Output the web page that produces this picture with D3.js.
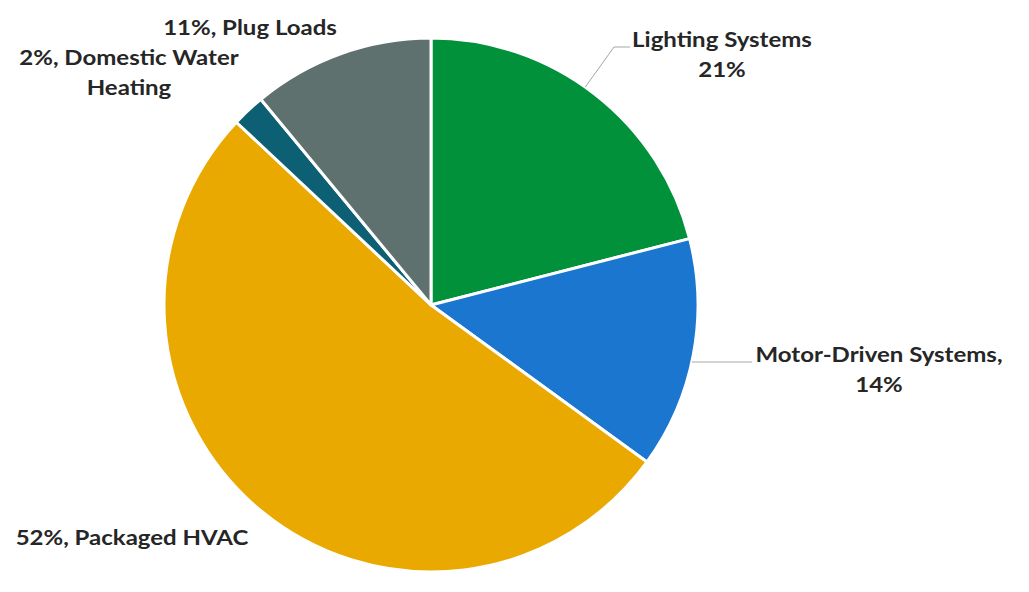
<!DOCTYPE html>
<html>
<head>
<meta charset="utf-8">
<script src="https://cdn.jsdelivr.net/npm/d3@7"></script>
<style>
  html, body { margin: 0; padding: 0; background: #fff; }
  svg { display: block; }
  .lbl { font-family: Lato, "Open Sans", sans-serif; font-weight: 700; font-size: 20px; fill: #262626; }
</style>
</head>
<body>
<svg id="chart" width="1029" height="592"></svg>
<script>
// Energy end-use shares, clockwise from 12 o'clock
const categories = ["Lighting Systems", "Motor-Driven Systems", "Packaged HVAC", "Domestic Water Heating", "Plug Loads"];
const shares = [21, 14, 52, 2, 11];
const sliceColors = ["#00913a", "#1a76cf", "#e9a900", "#0d5f74", "#5f716e"];

// Label text lines for each slice
const labelLines = [
  ["Lighting Systems", "21%"],
  ["Motor-Driven Systems,", "14%"],
  ["52%, Packaged HVAC"],
  ["2%, Domestic Water", "Heating"],
  ["11%, Plug Loads"]
];

// Label placement (center x, first baseline y)
const labelAnchor = [
  [722, 47], [879, 362], [132, 545], [129, 65], [250, 35]
];
// Leader polylines: rim start is found on the slice's edge
const leaderDefs = [
  { mode: "nearest", via: [[614, 47]], to: [630, 47] },
  { mode: "level", via: [], to: [752, 362] },
  null, null, null
];

const cx = 431, cy = 305, R = 267;
const lineGap = 30;
const stretchX = 1.2;

const svg = d3.select("#chart");
const g = svg.append("g").attr("transform", `translate(${cx},${cy})`);

const pie = d3.pie().sort(null).value(d => d.v).startAngle(0).endAngle(2 * Math.PI);
const arcs = pie(categories.map((c, i) => ({ c, v: shares[i], i })));
const arc = d3.arc().innerRadius(0).outerRadius(R);

g.selectAll("path.slice")
  .data(arcs)
  .join("path")
  .attr("class", "slice")
  .attr("d", arc)
  .attr("fill", d => sliceColors[d.data.i])
  .attr("stroke", "#ffffff")
  .attr("stroke-width", 3)
  .attr("stroke-linejoin", "round");

// Leader lines from the slice rim toward the label
leaderDefs.forEach((def, i) => {
  if (!def) return;
  const a = arcs[i];
  let start;
  if (def.mode === "level") {
    const dy = def.to[1] - cy;
    start = [cx + Math.sqrt(R * R - dy * dy), def.to[1]];
  } else {
    const target = def.via.length ? def.via[0] : def.to;
    let bd = Infinity;
    for (let t = a.startAngle; t <= a.endAngle; t += 0.002) {
      const px = cx + R * Math.sin(t), py = cy - R * Math.cos(t);
      const d = Math.hypot(px - target[0], py - target[1]);
      if (d < bd) { bd = d; start = [px, py]; }
    }
  }
  svg.append("path")
    .attr("d", d3.line()([start, ...def.via, def.to]))
    .attr("fill", "none")
    .attr("stroke", "#a6a6a6")
    .attr("stroke-width", 1);
});

// Labels (slightly widened glyphs)
labelLines.forEach((lines, i) => {
  const t = svg.append("text")
    .attr("class", "lbl")
    .attr("text-anchor", "middle")
    .attr("transform", `translate(${labelAnchor[i][0]},${labelAnchor[i][1]}) scale(${stretchX},1)`);
  lines.forEach((s, k) => {
    t.append("tspan")
      .attr("x", 0)
      .attr("y", k * lineGap)
      .text(s);
  });
});
</script>
</body>
</html>
